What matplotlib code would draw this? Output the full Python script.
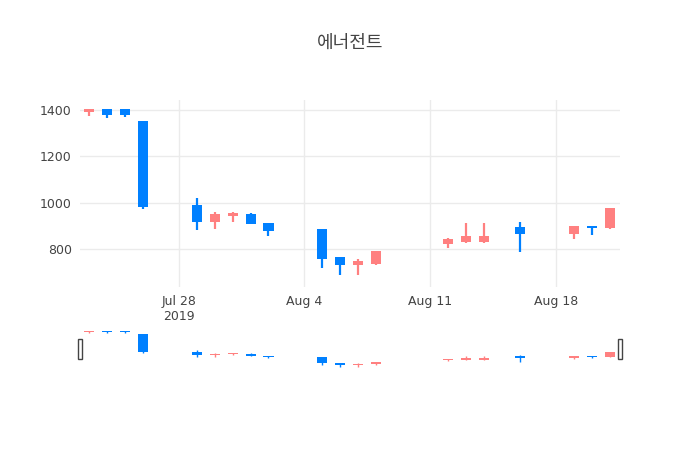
import matplotlib
matplotlib.use("Agg")
import matplotlib.pyplot as plt
import matplotlib.dates as mdates
import numpy as np
import datetime as dt

dates = ["2019-07-23","2019-07-24","2019-07-25","2019-07-26","2019-07-29","2019-07-30","2019-07-31",
         "2019-08-01","2019-08-02","2019-08-05","2019-08-06","2019-08-07","2019-08-08","2019-08-12",
         "2019-08-13","2019-08-14","2019-08-16","2019-08-19","2019-08-20","2019-08-21"]
opens  = [1390,1405,1405,1355,990,915,940,950,910,885,765,730,735,820,830,830,895,865,900,890]
highs  = [1405,1405,1405,1355,1020,960,960,955,910,885,765,755,790,845,910,910,915,900,900,975]
lows   = [1375,1366,1370,970,880,885,915,905,855,715,685,685,730,805,825,825,785,840,860,885]
closes = [1405,1380,1380,980,915,950,955,905,875,755,730,745,790,840,855,855,865,900,890,975]

UP = "#FF8080"; DN = "#0080FF"
x = mdates.date2num([dt.datetime.strptime(d, "%Y-%m-%d") for d in dates])

fig = plt.figure(figsize=(7, 4.5), dpi=100)
ax = fig.add_axes([80/700, 1-287/450, 540/700, 187/450])
rs = fig.add_axes([80/700, 1-368/450, 540/700, 38/450])

def draw(a, lw):
    for xi, o, h, l, c in zip(x, opens, highs, lows, closes):
        col = UP if c >= o else DN
        a.vlines(xi, l, h, color=col, lw=lw, zorder=3)
        a.bar(xi, max(abs(c-o), 1), bottom=min(o, c), width=0.56, color=col, zorder=3, linewidth=0)

draw(ax, 1.6)
draw(rs, 1.0)
x0 = mdates.date2num(dt.datetime(2019,7,22,12)); x1 = mdates.date2num(dt.datetime(2019,8,21,14))
ax.set_xlim(x0, x1); rs.set_xlim(x0, x1)
ax.set_ylim(634, 1444)
rs.set_ylim(660, 1430)

ax.set_yticks([800,1000,1200,1400])
ax.set_yticklabels(["800","1000","1200","1400"])
ticks = [dt.datetime(2019,7,28), dt.datetime(2019,8,4), dt.datetime(2019,8,11), dt.datetime(2019,8,18)]
ax.set_xticks(mdates.date2num(ticks))
ax.set_xticklabels(["Jul 28\n2019","Aug 4","Aug 11","Aug 18"])
ax.grid(True, color="#ebebeb", lw=1, zorder=0)
for s in ax.spines.values(): s.set_visible(False)
ax.tick_params(length=0, labelsize=9, colors="#444444", pad=6)
for t in ax.get_xticklabels(): t.set_verticalalignment("top")

rs.set_xticks([]); rs.set_yticks([])
for s in rs.spines.values(): s.set_visible(False)
for xe in (x0, x1):
    rs.add_patch(plt.Rectangle((xe - 0.12, 850), 0.24, 400, facecolor="white", edgecolor="#444444", lw=1, zorder=5, clip_on=False))

fig.text(0.5, 1-43/450, "에너전트", ha="center", va="center", fontsize=13, color="#444444",
         family=["Noto Sans CJK KR", "DejaVu Sans"])
fig.savefig("out.png", dpi=100, facecolor="white")
